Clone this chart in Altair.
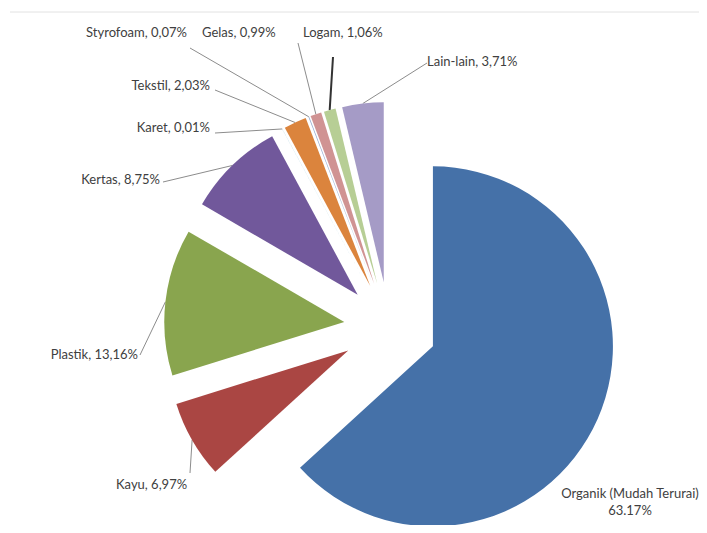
import altair as alt
import pandas as pd

# ---- data ----
categories = ["Organik (Mudah Terurai)", "Kayu", "Plastik", "Kertas", "Karet",
              "Tekstil", "Styrofoam", "Gelas", "Logam", "Lain-lain"]
values = [63.17, 6.97, 13.16, 8.75, 0.01, 2.03, 0.07, 0.99, 1.06, 3.71]
value_text = ["63.17%", "6,97%", "13,16%", "8,75%", "0,01%", "2,03%",
              "0,07%", "0,99%", "1,06%", "3,71%"]

# ---- style ----
colors = ["#4571A8", "#AA4643", "#89A54E", "#71589B", "#4198AF", "#DB843D",
          "#93A9CF", "#D09393", "#B7CE95", "#A59BC6"]

# ---- layout (chart pixel coords) ----
CX, CY, R = 381, 319, 180
explode = [48, 47, 45, 45, 45, 45, 45, 45, 45, 45]
# label text anchor: (x, y, align)
label_pos = {
    "Organik (Mudah Terurai)": (622, 486, "center"),
    "Kayu": (108, 477, "left"),
    "Plastik": (130, 347, "right"),
    "Kertas": (152, 172, "right"),
    "Karet": (202, 120, "right"),
    "Tekstil": (202, 78, "right"),
    "Styrofoam": (179, 25, "right"),
    "Gelas": (194, 25, "left"),
    "Logam": (295, 25, "left"),
    "Lain-lain": (419, 54, "left"),
}
# leader line start points (label side); ends are computed on the slice edge
leader_start = {
    "Kayu": (182, 465),
    "Plastik": (132, 347),
    "Kertas": (155, 174),
    "Karet": (207, 125),
    "Tekstil": (207, 82),
    "Styrofoam": (182, 40),
    "Gelas": (290, 35),
    "Logam": (325, 49),
    "Lain-lain": (419, 55),
}
leader_color = {"Logam": "#333333"}
leader_width = {"Logam": 2.0}

rows = []
for i, c in enumerate(categories):
    if i == 0:
        txt = c + "\n" + value_text[i]
    else:
        txt = c + ", " + value_text[i]
    lp = label_pos[c]
    ls = leader_start.get(c)
    rows.append({
        "order": i, "category": c, "value": values[i], "label": txt,
        "explode": explode[i], "tx": lp[0], "ty": lp[1], "align": lp[2],
        "lx": ls[0] if ls else None, "ly": ls[1] if ls else None,
        "lc": leader_color.get(c, "#8c8c8c"), "lw": leader_width.get(c, 1.0),
    })
df = pd.DataFrame(rows)

base = (
    alt.Chart(df)
    .transform_joinaggregate(total="sum(value)")
    .transform_window(cum="sum(value)", sort=[alt.SortField("order")], frame=[None, 0])
    .transform_calculate(
        t0="2*PI*(datum.cum-datum.value)/datum.total",
        t1="2*PI*datum.cum/datum.total",
    )
    .transform_calculate(tm="(datum.t0+datum.t1)/2")
    .transform_calculate(
        px=f"{CX}+datum.explode*sin(datum.tm)",
        py=f"{CY}-datum.explode*cos(datum.tm)",
    )
    .transform_calculate(
        ex=f"datum.px+{R}*sin(datum.tm)",
        ey=f"datum.py-{R}*cos(datum.tm)",
    )
)

arcs = base.mark_arc(radius=R).encode(
    x=alt.X("px:Q", scale=None, axis=None),
    y=alt.Y("py:Q", scale=None, axis=None),
    theta=alt.Theta("t0:Q", scale=None, stack=None),
    theta2="t1:Q",
    color=alt.Color("category:N", scale=alt.Scale(domain=categories, range=colors), legend=None),
)

leaders = base.transform_filter("isValid(datum.lx)").mark_rule().encode(
    x=alt.X("lx:Q", scale=None, axis=None),
    y=alt.Y("ly:Q", scale=None, axis=None),
    x2="ex:Q",
    y2="ey:Q",
    color=alt.Color("lc:N", scale=None),
    strokeWidth=alt.StrokeWidth("lw:Q", scale=None),
)

def text_layer(al):
    return alt.Chart(df).transform_filter(f"datum.align == '{al}'").mark_text(
        align=al, baseline="middle", font="Lato", fontSize=13, color="#404040",
        lineBreak="\n", lineHeight=17,
    ).encode(
        x=alt.X("tx:Q", scale=None, axis=None),
        y=alt.Y("ty:Q", scale=None, axis=None),
        text="label:N",
    )

top_rule = alt.Chart(pd.DataFrame({"a": [0]})).mark_rule(color="#e2e2e2", strokeWidth=1).encode(
    x=alt.value(2), x2=alt.value(699), y=alt.value(4)
)

chart = alt.layer(
    top_rule, leaders, arcs, text_layer("left"), text_layer("right"), text_layer("center")
).properties(
    width=691, height=517, padding=0, background="white",
    autosize=alt.AutoSizeParams(type="none")
).configure_view(stroke=None)

chart.save("out.html", embed_options={"renderer": "svg", "actions": False})
